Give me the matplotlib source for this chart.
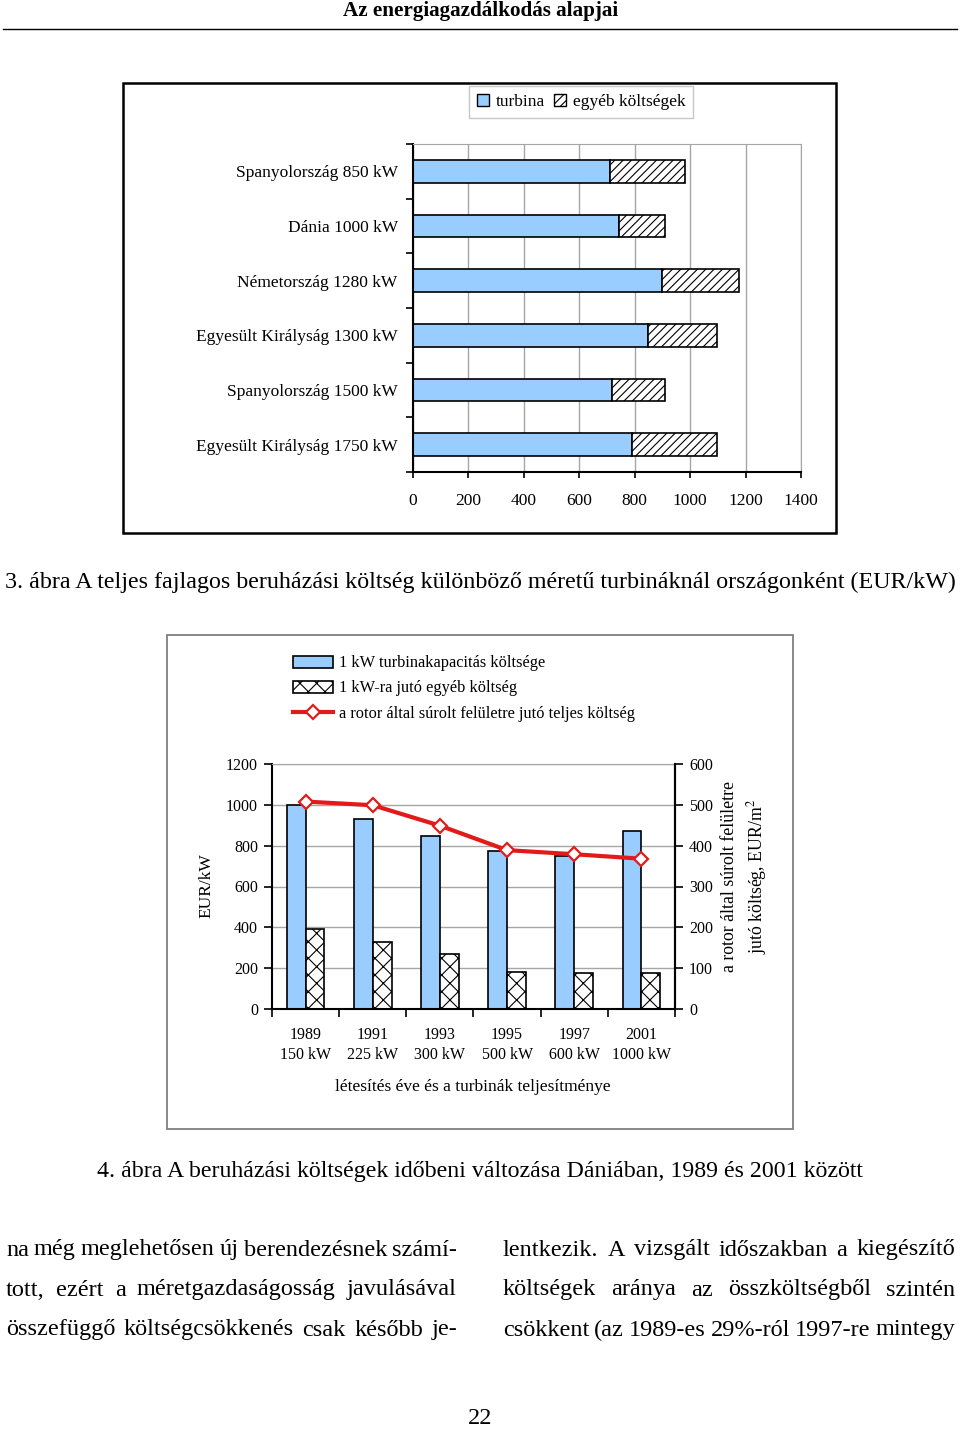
import numpy as np
import matplotlib
matplotlib.use("Agg")
import matplotlib.pyplot as plt
from matplotlib.patches import Rectangle, Patch
from matplotlib.lines import Line2D

plt.rcParams['font.family'] = ['Liberation Serif', 'DejaVu Serif']
plt.rcParams['hatch.linewidth'] = 0.8
plt.rcParams['mathtext.fontset'] = 'stix'

# chart 1 data
countries = ["Spanyolország 850 kW", "Dánia 1000 kW", "Németország 1280 kW",
             "Egyesült Királyság 1300 kW", "Spanyolország 1500 kW", "Egyesült Királyság 1750 kW"]
turbina = [710, 745, 898, 849, 719, 790]
egyeb = [270, 165, 280, 248, 191, 307]
xticks1 = [0, 200, 400, 600, 800, 1000, 1200, 1400]

# chart 2 data
years = ["1989\n150 kW", "1991\n225 kW", "1993\n300 kW", "1995\n500 kW", "1997\n600 kW", "2001\n1000 kW"]
turb_kw = [1000, 929, 849, 774, 748, 874]
other_kw = [390, 329, 271, 181, 176, 176]
rotor_m2 = [508, 499, 449, 389, 379, 368]

W, H = 960, 1430
BLUE = "#99ccff"
RED = "#e31a1a"
GRID = "#a6a6a6"


def fx(x):
    return x / W


def fy(y):
    return 1 - y / H


def box(x0, y0, x1, y1):
    return [fx(x0), fy(y1), (x1 - x0) / W, (y1 - y0) / H]


fig = plt.figure(figsize=(9.6, 14.3), dpi=100)

# page header
fig.text(fx(481), fy(11), "Az energiagazdálkodás alapjai", ha="center", va="center",
         fontsize=15.2, fontweight="bold")
fig.add_artist(Line2D([fx(3), fx(957)], [fy(29), fy(29)], color="black", lw=1.0))

# ---------- chart 1 ----------
fig.add_artist(Rectangle((fx(123), fy(533)), 713 / W, 450 / H, transform=fig.transFigure,
                         fill=False, edgecolor="black", lw=1.8))
ax1 = fig.add_axes(box(413, 144, 801, 472))
pos = np.arange(len(countries))
ax1.barh(pos, turbina, height=0.42, color=BLUE, edgecolor="black", lw=1.2, label="turbina")
ax1.barh(pos, egyeb, left=turbina, height=0.42, color="white", edgecolor="black", lw=1.2,
         hatch="////", label="egyéb költségek")
ax1.set_xlim(0, 1400)
ax1.set_ylim(5.5, -0.5)
ax1.set_xticks(xticks1)
ax1.set_yticks(pos)
ax1.set_yticklabels(countries)
ax1.set_yticks(np.arange(-0.5, 6, 1), minor=True)
ax1.tick_params(axis="y", which="major", length=0, pad=11, labelsize=12.5)
ax1.tick_params(axis="y", which="minor", length=5, width=1.2, direction="out")
ax1.tick_params(axis="x", length=4, width=1.2, pad=11, labelsize=12.5)
ax1.grid(axis="x", color=GRID, lw=1.0)
ax1.set_axisbelow(True)
for s in ["top", "right"]:
    ax1.spines[s].set_color(GRID)
for s in ["left", "bottom"]:
    ax1.spines[s].set_linewidth(1.5)

fig.legend(handles=[Patch(facecolor=BLUE, edgecolor="black", lw=1.0, label="turbina"),
                    Patch(facecolor="white", edgecolor="black", lw=1.0, hatch="////",
                          label="egyéb költségek")],
           loc="center", bbox_to_anchor=(fx(581), fy(102)), ncol=2, fontsize=12.5,
           handlelength=0.7, handleheight=0.7, handletextpad=0.4, columnspacing=0.5,
           fancybox=False, edgecolor="#c8c8c8", framealpha=1, borderpad=0.45)

fig.text(fx(480), fy(582),
         "3. ábra A teljes fajlagos beruházási költség különböző méretű turbináknál országonként (EUR/kW)",
         ha="center", va="center", fontsize=17.3)

# ---------- chart 2 ----------
fig.add_artist(Rectangle((fx(167), fy(1129)), 626 / W, 494 / H, transform=fig.transFigure,
                         fill=False, edgecolor="#7f7f7f", lw=1.3))
ax2 = fig.add_axes(box(272, 764, 675, 1009))
x = np.arange(len(years))
bw = 0.28
b1 = ax2.bar(x - bw / 2, turb_kw, width=bw, color=BLUE, edgecolor="black", lw=1.2,
             label="1 kW turbinakapacitás költsége")
b2 = ax2.bar(x + bw / 2, other_kw, width=bw, color="white", edgecolor="black", lw=1.2,
             hatch="xx", label="1 kW-ra jutó egyéb költség")
ax2.set_xlim(-0.5, 5.5)
ax2.set_ylim(0, 1200)
ax2.set_yticks(range(0, 1201, 200))
ax2.set_xticks(x)
ax2.set_xticklabels(years, linespacing=1.3)
ax2.set_xticks(np.arange(-0.5, 6, 1), minor=True)
ax2.tick_params(axis="x", which="major", length=0, pad=13, labelsize=11.5)
ax2.tick_params(axis="x", which="minor", length=6, width=1.2, direction="out")
ax2.tick_params(axis="y", length=6, width=1.2, pad=4, labelsize=11.5)
ax2.grid(axis="y", color=GRID, lw=1.0)
ax2.set_axisbelow(True)
ax2.spines["top"].set_color(GRID)
for s in ["left", "bottom", "right"]:
    ax2.spines[s].set_linewidth(1.5)

ax2r = ax2.twinx()
ln, = ax2r.plot(x, rotor_m2, color=RED, lw=3, marker="D", markersize=7,
                markerfacecolor="white", markeredgecolor=RED, markeredgewidth=1.6,
                label="a rotor által súrolt felületre jutó teljes költség")
ax2r.set_ylim(0, 600)
ax2r.set_yticks(range(0, 601, 100))
ax2r.tick_params(axis="y", length=6, width=1.2, pad=4, labelsize=11.5)
ax2r.spines["right"].set_linewidth(1.5)
for s in ["top", "left", "bottom"]:
    ax2r.spines[s].set_visible(False)

fig.legend(handles=[b1, b2, ln], loc="upper left", bbox_to_anchor=(fx(282), fy(644)),
           frameon=False, fontsize=11.8, handlelength=2.4, handleheight=0.75,
           handletextpad=0.35, labelspacing=0.55, borderpad=0.2)

fig.text(fx(206), fy(886), "EUR/kW", rotation=90, ha="center", va="center", fontsize=12.5)
fig.text(fx(745), fy(876), "a rotor által súrolt felületre\njutó költség, EUR/m$^2$",
         rotation=90, ha="center", va="center", fontsize=12.8, linespacing=1.35,
         multialignment="center")
fig.text(fx(473), fy(1087), "létesítés éve és a turbinák teljesítménye",
         ha="center", va="center", fontsize=12.5)

fig.text(fx(480), fy(1172),
         "4. ábra A beruházási költségek időbeni változása Dániában, 1989 és 2001 között",
         ha="center", va="center", fontsize=17.2)

# ---------- body text (justified two columns) ----------
left_lines = ["na még meglehetősen új berendezésnek számí-",
              "tott, ezért a méretgazdaságosság javulásával",
              "összefüggő költségcsökkenés csak később je-"]
right_lines = ["lentkezik. A vizsgált időszakban a kiegészítő",
               "költségek aránya az összköltségből szintén",
               "csökkent (az 1989-es 29%-ról 1997-re mintegy"]

renderer = fig.canvas.get_renderer()


def justify(line, x0, x1, y, size=17.5):
    words = line.split()
    texts = [fig.text(0, fy(y), w, ha="left", va="center", fontsize=size) for w in words]
    widths = [t.get_window_extent(renderer).width for t in texts]
    gap = (x1 - x0 - sum(widths)) / (len(words) - 1)
    cur = x0
    for t, w in zip(texts, widths):
        t.set_x(fx(cur))
        cur += w + gap


for i, (l, r) in enumerate(zip(left_lines, right_lines)):
    yy = 1250 + 40 * i
    justify(l, 6, 457, yy)
    justify(r, 503, 955, yy)

fig.text(fx(480), fy(1418), "22", ha="center", va="center", fontsize=17.5)

fig.savefig("out.png", dpi=100)
